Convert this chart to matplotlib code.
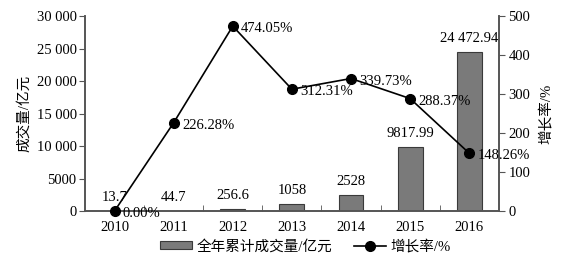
import numpy as np
import matplotlib.pyplot as plt
from matplotlib.ticker import FixedLocator

plt.rcParams['font.family'] = ['Liberation Serif', 'Noto Sans CJK SC']

years = ['2010', '2011', '2012', '2013', '2014', '2015', '2016']
volume = [13.7, 44.7, 256.6, 1058, 2528, 9817.99, 24472.94]
volume_labels = ['13.7', '44.7', '256.6', '1058', '2528', '9817.99', '24 472.94']
growth = [0.00, 226.28, 474.05, 312.31, 339.73, 288.37, 148.26]
growth_labels = ['0.00%', '226.28%', '474.05%', '312.31%', '339.73%', '288.37%', '148.26%']
left_ticks = [0, 5000, 10000, 15000, 20000, 25000, 30000]
left_tick_labels = ['0', '5000', '10 000', '15 000', '20 000', '25 000', '30 000']
right_ticks = [0, 100, 200, 300, 400, 500]

fig = plt.figure(figsize=(5.82, 2.58), dpi=100)
ax = fig.add_axes([0.146, 0.182, 0.711, 0.756])
x = np.arange(len(years))

spine_col = '#555555'
bars = ax.bar(x, volume, width=0.42, color='#7a7a7a', edgecolor='#3a3a3a',
              linewidth=0.8, label='全年累计成交量/亿元', zorder=2)
for i in range(len(x)):
    ax.annotate(volume_labels[i], (x[i], volume[i]), xytext=(0, 5),
                textcoords='offset points', ha='center', va='bottom', fontsize=10.5)

ax.set_xlim(-0.5, len(x) - 0.5)
ax.set_ylim(0, 30000)
ax.set_yticks(left_ticks)
ax.set_yticklabels(left_tick_labels, fontsize=10.5)
ax.set_xticks(x)
ax.set_xticklabels(years, fontsize=10.5)
ax.tick_params(axis='x', length=0, pad=7)
ax.xaxis.set_minor_locator(FixedLocator(x[:-1] + 0.5))
ax.tick_params(axis='x', which='minor', direction='in', length=4, color=spine_col)
ax.tick_params(axis='y', length=4, color=spine_col, pad=2)
ax.set_ylabel('成交量/亿元', fontsize=10.5, labelpad=4)
ax.spines['top'].set_visible(False)
for s in ['left', 'bottom', 'right']:
    ax.spines[s].set_color(spine_col)
    ax.spines[s].set_linewidth(1.2)

ax2 = ax.twinx()
line, = ax2.plot(x, growth, color='black', linewidth=1.2, marker='o',
                 markersize=7, label='增长率/%', zorder=3, clip_on=False)
for i in range(len(x)):
    ax2.annotate(growth_labels[i], (x[i], growth[i]), xytext=(6, -2),
                 textcoords='offset points', ha='left', va='center', fontsize=10.5)
ax2.set_ylim(0, 500)
ax2.set_yticks(right_ticks)
ax2.set_yticklabels([str(t) for t in right_ticks], fontsize=10.5)
ax2.tick_params(axis='y', length=4, color=spine_col, pad=3)
ax2.set_ylabel('增长率/%', fontsize=10.5, labelpad=6)
ax2.spines['top'].set_visible(False)
for s in ['left', 'bottom', 'right']:
    ax2.spines[s].set_color(spine_col)
    ax2.spines[s].set_linewidth(1.2)

fig.legend([bars, line], ['全年累计成交量/亿元', '增长率/%'], loc='center',
           bbox_to_anchor=(0.525, 0.045), ncol=2, frameon=False, fontsize=10.5,
           handlelength=2.2, handleheight=0.4, columnspacing=1.5, handletextpad=0.3)

fig.savefig('out.png', dpi=100)
